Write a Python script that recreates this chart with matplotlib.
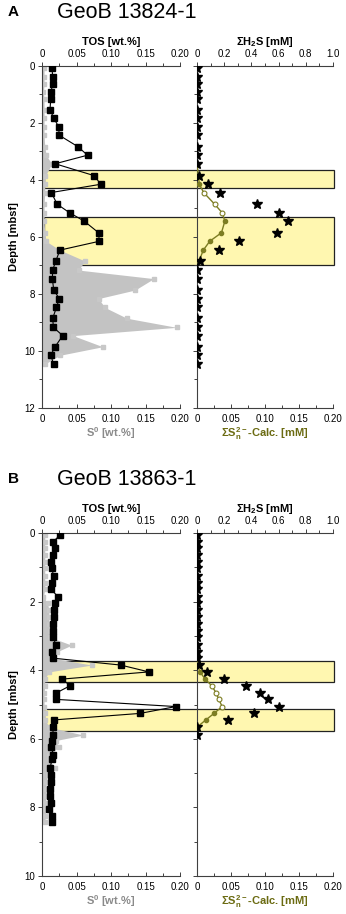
import numpy as np
import matplotlib
matplotlib.use("Agg")
import matplotlib.pyplot as plt
from matplotlib.patches import Rectangle
from matplotlib.ticker import MultipleLocator
import matplotlib.transforms as mtransforms

plt.rcParams['font.family'] = ['Liberation Sans', 'DejaVu Sans']
plt.rcParams['mathtext.default'] = 'regular'

# ---- GeoB 13824-1 (panel A) ----
depth_A = [0.08, 0.37, 0.64, 0.9, 1.17, 1.54, 1.84, 2.13, 2.43, 2.83, 3.13, 3.43,
           3.85, 4.15, 4.44, 4.85, 5.15, 5.44, 5.85, 6.15, 6.46, 6.84, 7.16, 7.46,
           7.86, 8.16, 8.47, 8.85, 9.17, 9.46, 9.85, 10.15, 10.46]
tos_A = [0.0145, 0.0155, 0.0155, 0.013, 0.0126, 0.0116, 0.0174, 0.024, 0.025, 0.052,
         0.066, 0.019, 0.076, 0.085, 0.0135, 0.022, 0.040, 0.061, 0.082, 0.083, 0.026,
         0.020, 0.0155, 0.015, 0.017, 0.025, 0.021, 0.0155, 0.0165, 0.030, 0.019,
         0.0126, 0.017]
s0_A = [0.003, 0.003, 0.003, 0.002, 0.003, 0.003, 0.003, 0.003, 0.003, 0.004, 0.006,
        0.014, 0.005, 0.004, 0.004, 0.003, 0.003, 0.003, 0.004, 0.006, 0.026, 0.062,
        0.053, 0.162, 0.135, 0.082, 0.091, 0.123, 0.195, 0.045, 0.088, 0.026, 0.004]
h2s_depth_A = depth_A
h2s_A = [0, 0, 0, 0, 0, 0, 0, 0, 0, 0, 0, 0,
         0.017, 0.078, 0.171, 0.44, 0.60, 0.667, 0.586, 0.309, 0.162, 0.022,
         0, 0, 0, 0, 0, 0, 0, 0, 0, 0, 0]
calc_depth_A = [3.43, 3.85, 4.15, 4.44, 4.85, 5.15, 5.44, 5.85, 6.15, 6.46, 6.84]
calc_A = [0.0, 0.002, 0.0034, 0.0098, 0.026, 0.037, 0.041, 0.036, 0.0187, 0.0093, 0.003]
bands_A = [(3.65, 4.28), (5.3, 6.98)]

# ---- GeoB 13863-1 (panel B) ----
depth_B = [0.06, 0.25, 0.45, 0.64, 0.84, 1.03, 1.25, 1.45, 1.64, 1.86, 2.05, 2.24,
           2.44, 2.65, 2.85, 3.04, 3.27, 3.46, 3.65, 3.85, 4.05, 4.26, 4.45, 4.66,
           4.85, 5.06, 5.26, 5.45, 5.66, 5.89, 6.05, 6.25, 6.47, 6.6, 6.86, 7.05,
           7.25, 7.47, 7.66, 7.88, 8.05, 8.25, 8.42]
tos_B = [0.026, 0.0165, 0.019, 0.0165, 0.0126, 0.014, 0.017, 0.015, 0.0126, 0.0236,
         0.019, 0.018, 0.017, 0.0165, 0.0155, 0.0165, 0.020, 0.0145, 0.0165, 0.114,
         0.155, 0.0285, 0.041, 0.021, 0.020, 0.194, 0.142, 0.017, 0.0165, 0.0155,
         0.015, 0.0135, 0.0165, 0.0145, 0.0116, 0.0126, 0.0135, 0.0116, 0.0116,
         0.0126, 0.010, 0.015, 0.015]
s0_B = [0.004, 0.004, 0.004, 0.004, 0.004, 0.004, 0.004, 0.004, 0.004, 0.002,
        0.008, 0.010, 0.010, 0.010, 0.011, 0.012, 0.043, 0.022, 0.015, 0.072,
        0.010, 0.004, 0.004, 0.003, 0.003, 0.003, 0.004, 0.005, 0.010, 0.060,
        0.020, 0.024, 0.010, 0.010, 0.019, 0.008, 0.006, 0.006, 0.006, 0.005,
        0.005, 0.005, 0.004]
h2s_depth_B = depth_B[:30]
h2s_B = [0, 0, 0, 0, 0, 0, 0, 0, 0, 0, 0, 0, 0, 0, 0, 0, 0, 0, 0,
         0.015, 0.076, 0.20, 0.36, 0.46, 0.52, 0.60, 0.42, 0.23, 0, 0]
calc_depth_B = [3.65, 3.85, 4.05, 4.26, 4.45, 4.66, 4.85, 5.06, 5.26, 5.45, 5.66]
calc_B = [0.0, 0.0005, 0.0044, 0.012, 0.0216, 0.028, 0.032, 0.037, 0.025, 0.013, 0.0]
bands_B = [(3.73, 4.34), (5.13, 5.77)]

# colours
yellow = '#fff7b0'
gray_fill = '#c3c3c3'
gray_mark = '#c8c8c8'
olive = '#7d7d22'
olive_txt = '#6b6b12'
spine_c = '#404040'

W, H = 346, 914
fig = plt.figure(figsize=(W / 100, H / 100), dpi=100)


def px_axes(x0, x1, ytop, ybot):
    return fig.add_axes([x0 / W, 1 - ybot / H, (x1 - x0) / W, (ybot - ytop) / H])


def style(ax, twin, ymax, top_max, top_step, show_ylabels):
    for a in (ax, twin):
        a.set_facecolor('none')
        a.spines['right'].set_visible(False)
        for s in a.spines.values():
            s.set_color(spine_c)
            s.set_linewidth(0.8)
    twin.spines['left'].set_visible(False)
    twin.spines['bottom'].set_visible(False)
    ax.spines['top'].set_visible(False)
    ax.set_ylim(ymax, 0)
    ax.yaxis.set_major_locator(MultipleLocator(2))
    ax.yaxis.set_minor_locator(MultipleLocator(1))
    ax.tick_params(axis='y', which='both', direction='out', length=3, width=0.7,
                   colors=spine_c, labelsize=7, labelcolor='black', pad=2,
                   labelleft=show_ylabels)
    ax.tick_params(axis='y', which='minor', length=2)
    ax.set_xlim(0, 0.20)
    ax.xaxis.set_major_locator(MultipleLocator(0.05))
    ax.xaxis.set_minor_locator(MultipleLocator(0.025))
    ax.xaxis.set_major_formatter(lambda v, p: '0' if v == 0 else f'{v:.2f}')
    ax.tick_params(axis='x', which='both', direction='in', length=3, width=0.7,
                   colors=spine_c, labelsize=7, labelcolor='black', pad=4)
    ax.tick_params(axis='x', which='minor', length=2)
    twin.set_xlim(0, top_max)
    twin.xaxis.set_major_locator(MultipleLocator(top_step))
    twin.xaxis.set_minor_locator(MultipleLocator(top_step / 2))
    if top_max == 1.0:
        twin.xaxis.set_major_formatter(lambda v, p: '0' if v == 0 else f'{v:.1f}')
    else:
        twin.xaxis.set_major_formatter(lambda v, p: '0' if v == 0 else f'{v:.2f}')
    twin.tick_params(axis='x', which='both', direction='out', length=3, width=0.7,
                     colors=spine_c, labelsize=7, labelcolor='black', pad=2)
    twin.tick_params(axis='x', which='minor', length=2)


def panel(letter, name, ytop, ybot, ymax, depth, tos, s0, hd, h2s, cd, calc, bands):
    axL = px_axes(42, 180, ytop, ybot)
    axR = px_axes(197, 333, ytop, ybot)
    twL = axL.twiny()
    twR = axR.twiny()
    style(axL, twL, ymax, 0.20, 0.05, True)
    style(axR, twR, ymax, 1.0, 0.2, False)

    # shaded horizons spanning both columns
    trans = mtransforms.blended_transform_factory(axL.transAxes, axL.transData)
    span = (334 - 44) / 138
    for top, bot in bands:
        axL.add_patch(Rectangle((0.015, top), span, bot - top, transform=trans,
                                facecolor=yellow, edgecolor='#222222', lw=0.9,
                                clip_on=False, zorder=0.5))

    # S0 fill
    axL.fill_betweenx(depth, 0, s0, color=gray_fill, lw=0, zorder=1)
    axL.plot(s0, depth, 's', color=gray_mark, ms=3.5, zorder=1.1)
    # TOS
    twL.plot(tos, depth, '-', color='black', lw=0.8, zorder=3)
    twL.plot(tos, depth, 's', color='black', ms=4.4, zorder=3)

    # H2S stars
    twR.plot(h2s, hd, '*', color='black', ms=7.5, lw=0, zorder=4)
    # calculated polysulfide
    axR.plot(calc, cd, '-', color=olive, lw=1.0, zorder=3)
    inside = [any(t <= d <= b for t, b in bands) for d in cd]
    cd_in = [d for d, f in zip(cd, inside) if f]
    c_in = [c for c, f in zip(calc, inside) if f]
    cd_out = [d for d, f in zip(cd, inside) if not f]
    c_out = [c for c, f in zip(calc, inside) if not f]
    axR.plot(c_in, cd_in, 'o', color=olive, ms=3, zorder=3.5)
    axR.plot(c_out, cd_out, 'o', mfc='white', mec=olive, mew=0.8, ms=3.5, zorder=3.5)

    # labels
    twL.set_xlabel('TOS [wt.%]', fontsize=8, fontweight='bold', labelpad=3)
    twR.set_xlabel(r'$\Sigma$H$_2$S [mM]', fontsize=8, fontweight='bold', labelpad=3)
    axL.set_xlabel('S$^0$ [wt.%]', fontsize=8, fontweight='bold', color='#8a8a8a',
                   labelpad=1)
    axR.set_xlabel(r'$\Sigma$S$_n^{2-}$-Calc. [mM]', fontsize=8, fontweight='bold',
                   color=olive_txt, labelpad=1)
    axL.set_ylabel('Depth [mbsf]', fontsize=8, fontweight='bold', labelpad=4)

    ycap = ytop - 54
    fig.text(8 / W, 1 - ycap / H, letter, fontsize=11, fontweight='bold',
             va='center', ha='left')
    fig.text(57 / W, 1 - (ycap + 1) / H, name, fontsize=15.5, va='center', ha='left')


panel('A', 'GeoB 13824-1', 66, 408, 12, depth_A, tos_A, s0_A, h2s_depth_A, h2s_A,
      calc_depth_A, calc_A, bands_A)
panel('B', 'GeoB 13863-1', 533, 876, 10, depth_B, tos_B, s0_B, h2s_depth_B, h2s_B,
      calc_depth_B, calc_B, bands_B)

fig.savefig('out.png', dpi=100)
